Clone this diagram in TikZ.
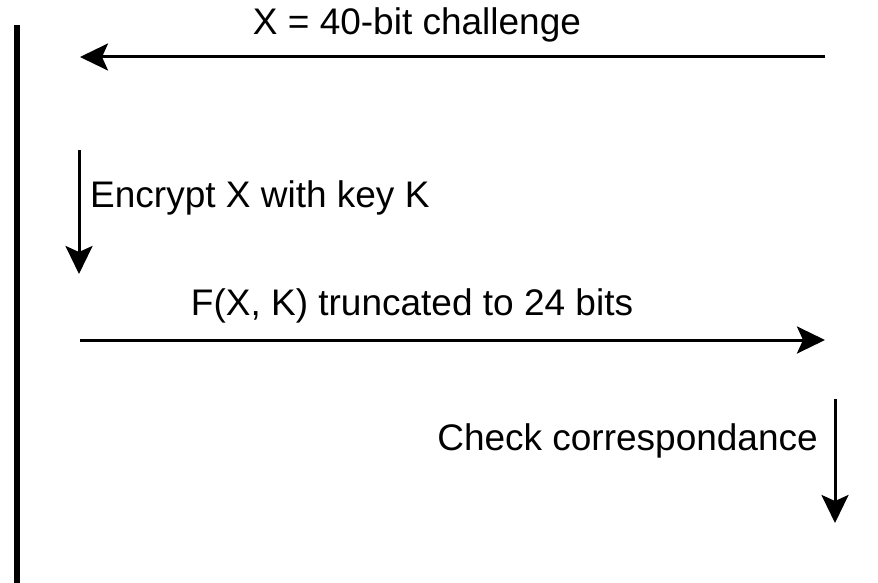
\documentclass[tikz,border=0pt]{standalone}
\usepackage{fontspec}
\setmainfont{Liberation Sans}
\usetikzlibrary{arrows.meta}
\begin{document}
\begin{tikzpicture}[x=1pt, y=-1pt,
  msg/.style={line width=3pt, -{Stealth[length=28pt, width=27pt, inset=6pt]}},
  lifeline/.style={line width=6pt},
  lbl/.style={inner sep=0pt, font=\fontsize{37}{44}\selectfont}]
\useasboundingbox (0,0) rectangle (878,583);
% lifeline on the left
\coordinate (lt) at (17,25);
\coordinate (lb) at (17,583);
\draw[lifeline] (lt) -- (lb);
% challenge sent to the left
\coordinate (c1) at (825,57);
\coordinate (c2) at (80,57);
\draw[msg] (c1) -- (c2);
\node[lbl, anchor=base] (challenge) at (417,35) {X = 40-bit challenge};
% local encryption step
\coordinate (e1) at (79,150);
\coordinate (e2) at (79,274);
\draw[msg] (e1) -- (e2);
\node[lbl, anchor=base west] (encrypt) at (90,207) {Encrypt X with key K};
% response sent to the right
\coordinate (r1) at (80,340);
\coordinate (r2) at (825,340);
\draw[msg] (r1) -- (r2);
\node[lbl, anchor=base] (response) at (412,315) {F(X, K) truncated to 24 bits};
% verification step
\coordinate (v1) at (835,399);
\coordinate (v2) at (835,523);
\draw[msg] (v1) -- (v2);
\node[lbl, anchor=base east] (check) at (818,450) {Check correspondance};
\end{tikzpicture}
\end{document}
